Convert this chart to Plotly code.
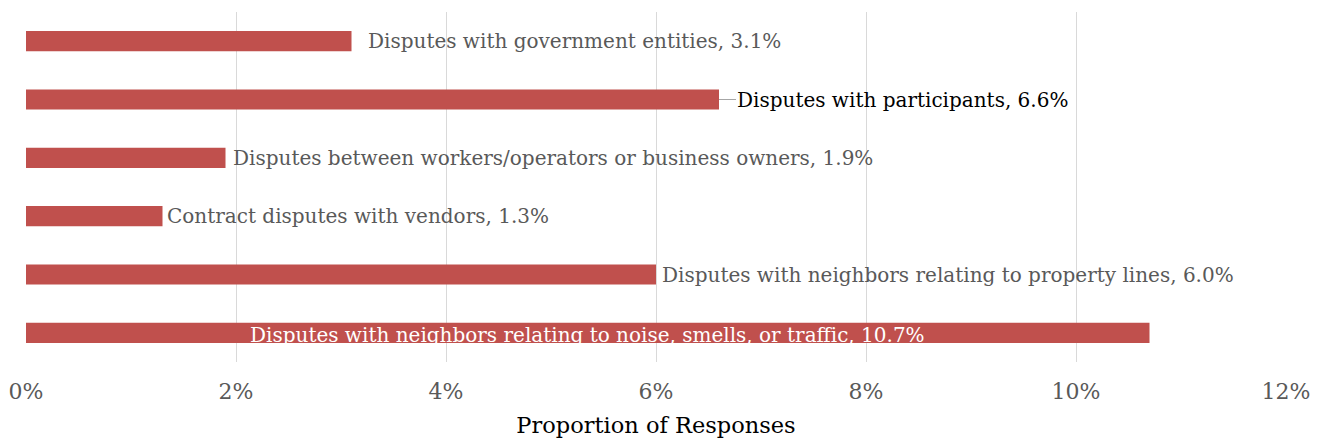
import plotly.graph_objects as go

categories = [
    "Disputes with government entities",
    "Disputes with participants",
    "Disputes between workers/operators or business owners",
    "Contract disputes with vendors",
    "Disputes with neighbors relating to property lines",
    "Disputes with neighbors relating to noise, smells, or traffic",
]
values = [3.1, 6.6, 1.9, 1.3, 6.0, 10.7]
tick_vals = [0, 2, 4, 6, 8, 10, 12]
tick_text = ["0%", "2%", "4%", "6%", "8%", "10%", "12%"]

FONT = "DejaVu Serif"
BAR = "#C0504D"
GREY = "#595959"
LSIZE = 20

fig = go.Figure()
fig.add_trace(go.Bar(
    x=values, y=categories, orientation="h",
    marker=dict(color=BAR, line=dict(width=0)),
    width=0.345, hoverinfo="x+y",
))

# label styling per bar (offset in px, mode)
label_shift = [14, 17, 5, 2, 4, None]
label_color = [GREY, "#000000", GREY, GREY, GREY, "#FFFFFF"]
annotations = []
for i, (c, v) in enumerate(zip(categories, values)):
    txt = f"{c}, {v:.1f}%"
    if label_shift[i] is None:
        annotations.append(dict(x=v / 2, y=c, text=txt, showarrow=False,
                                xanchor="center", yanchor="middle", yshift=-2,
                                font=dict(family=FONT, size=LSIZE, color=label_color[i])))
    elif i == 1:
        annotations.append(dict(x=v, y=c, text=txt, showarrow=True, arrowhead=0,
                                arrowcolor="#A6A6A6", arrowwidth=1, ax=label_shift[i], ay=0,
                                xanchor="left", yanchor="middle", standoff=0, startstandoff=0,
                                borderpad=0,
                                font=dict(family=FONT, size=LSIZE, color=label_color[i])))
    else:
        annotations.append(dict(x=v, y=c, text=txt, showarrow=False,
                                xanchor="left", yanchor="middle", xshift=label_shift[i],
                                font=dict(family=FONT, size=LSIZE, color=label_color[i])))

fig.update_layout(
    width=1313, height=435,
    margin=dict(l=18, r=35, t=4, b=81),
    paper_bgcolor="white", plot_bgcolor="white",
    showlegend=False,
    annotations=annotations,
    xaxis=dict(range=[0, 12], tickvals=tick_vals, ticktext=tick_text,
               automargin=False,
               showgrid=True, gridcolor="#D9D9D9", gridwidth=1.3,
               zeroline=False, showline=False, ticks="",
               ticklabelstandoff=14, ticklabeloverflow="allow",
               tickfont=dict(family=FONT, size=22, color=GREY),
               title=dict(text="Proportion of Responses", standoff=14,
                          font=dict(family=FONT, size=22.5, color="#000000"))),
    yaxis=dict(categoryorder="array", categoryarray=categories[::-1],
               automargin=False,
               showticklabels=False, showgrid=False, zeroline=False, ticks=""),
)

fig.write_html("out.html")
